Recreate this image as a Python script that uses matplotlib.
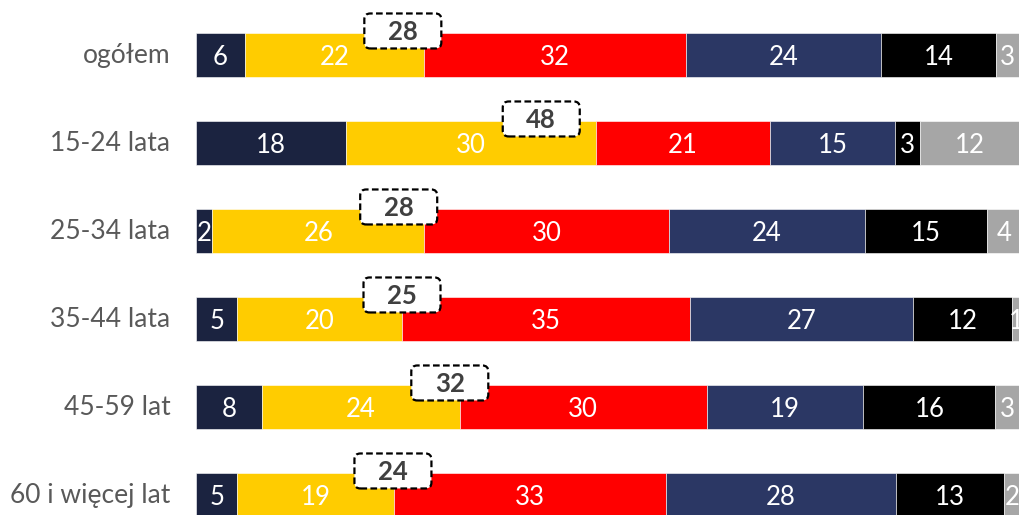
import matplotlib
matplotlib.use("Agg")
import matplotlib.pyplot as plt
from matplotlib.patches import FancyBboxPatch
from matplotlib.transforms import ScaledTranslation
import numpy as np

plt.rcParams['font.family'] = ['Lato', 'DejaVu Sans']

categories = ["ogółem", "15-24 lata", "25-34 lata", "35-44 lata", "45-59 lat", "60 i więcej lat"]
s1 = [6, 18, 2, 5, 8, 5]
s2 = [22, 30, 26, 20, 24, 19]
s3 = [32, 21, 30, 35, 30, 33]
s4 = [24, 15, 24, 27, 19, 28]
s5 = [14, 3, 15, 12, 16, 13]
s6 = [3, 12, 4, 1, 3, 2]
box_values = [28, 48, 28, 25, 32, 24]
# layout: horizontal centre of the dashed boxes (in % of bar width)
box_x = [25.1, 41.9, 24.6, 25.0, 30.8, 23.9]

colors = ["#1B2340", "#FFCC00", "#FF0000", "#2B3764", "#000000", "#A6A6A6"]
series = [s1, s2, s3, s4, s5, s6]

fig = plt.figure(figsize=(10.2, 5.15), dpi=100)
ax = fig.add_axes([196 / 1020, 0, 1 - 196 / 1020, 1])

data = np.array(series, dtype=float)
totals = data.sum(axis=0)
norm = data / totals * 100
y = np.arange(len(categories))
left = np.zeros(len(categories))
for k in range(len(series)):
    ax.barh(y, norm[k], left=left, height=0.5, color=colors[k],
            edgecolor="white", linewidth=0.4)
    for i in range(len(categories)):
        ax.text(left[i] + norm[k][i] / 2, y[i] + 0.03, str(series[k][i]),
                ha="center", va="center", color="white", fontsize=18.5,
                clip_on=False)
    left += norm[k]

ax.set_xlim(0, 100)
ax.set_ylim((515 - 55) / 88, -55 / 88)
ax.axis("off")

for i in range(len(categories)):
    ax.text(-3.1, y[i] + 0.01, categories[i], ha="right", va="center",
            color="#595959", fontsize=19, clip_on=False)
    tr = fig.dpi_scale_trans + ScaledTranslation(box_x[i], y[i] - 0.273, ax.transData)
    p = FancyBboxPatch((-0.385, -0.175), 0.77, 0.35,
                       boxstyle="round,pad=0,rounding_size=0.06",
                       transform=tr, facecolor="white", edgecolor="black",
                       linewidth=1.6, linestyle=(0, (3, 1.5)), clip_on=False,
                       zorder=5)
    ax.add_patch(p)
    ax.text(0, -0.01, str(box_values[i]), transform=tr, ha="center", va="center",
            fontsize=18.5, fontweight="bold", color="#404040", zorder=6,
            clip_on=False)

fig.savefig("out.png", dpi=100)
